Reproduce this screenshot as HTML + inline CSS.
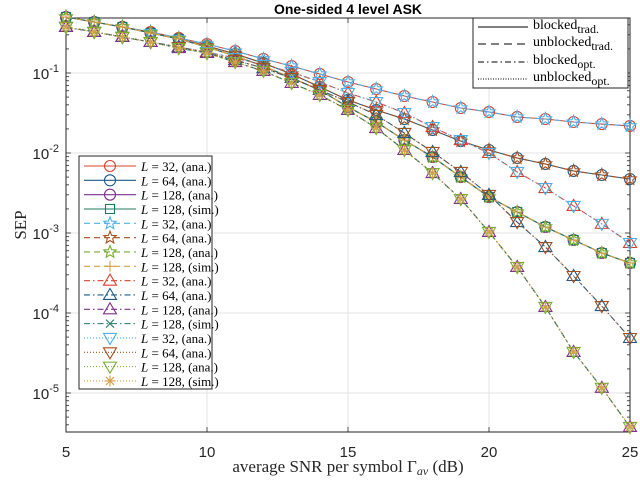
<!DOCTYPE html>
<html><head><meta charset="utf-8"><style>
body{margin:0;background:#fff;}
svg{display:block;}
text{font-family:"Liberation Sans",sans-serif;}
.serif{font-family:"Liberation Serif",serif;}
</style></head><body>
<svg id="chart" width="640" height="480" viewBox="0 0 640 480" xmlns="http://www.w3.org/2000/svg"></svg>
<script>
const snr = [5,6,7,8,9,10,11,12,13,14,15,16,17,18,19,20,21,22,23,24,25];
const sepL32Trad = [0.501,0.434,0.376,0.326,0.274,0.230,0.188,0.150,0.122,0.0972,0.0772,0.0631,0.0516,0.0434,0.0365,0.0326,0.0282,0.0266,0.0244,0.0230,0.0218];
const sepL64Trad = [0.501,0.434,0.376,0.316,0.266,0.218,0.173,0.133,0.0972,0.0668,0.0460,0.0345,0.0266,0.0194,0.0141,0.0109,0.00866,0.00729,0.00596,0.00531,0.00473];
const sepL128Trad = [0.501,0.434,0.376,0.316,0.266,0.211,0.163,0.122,0.0866,0.0613,0.0376,0.0244,0.0145,0.00891,0.00501,0.00282,0.00183,0.00119,0.000818,0.000562,0.000422];
const sepL32Opt = [0.376,0.326,0.282,0.244,0.211,0.183,0.154,0.126,0.103,0.0772,0.0562,0.0434,0.0316,0.0211,0.0145,0.0100,0.00579,0.00365,0.00218,0.00130,0.00075];
const sepL64Opt = [0.376,0.326,0.282,0.244,0.211,0.178,0.145,0.115,0.0866,0.0613,0.0434,0.0299,0.0178,0.0103,0.00579,0.00299,0.00137,0.000668,0.00029,0.000122,0.0000487];
const sepL128Opt = [0.376,0.326,0.282,0.244,0.205,0.178,0.137,0.106,0.075,0.0531,0.0345,0.0205,0.0109,0.00562,0.00266,0.00103,0.000376,0.000119,0.0000326,0.0000116,0.00000376];
const xTicks = [5,10,15,20,25];
const yDecades = [-1,-2,-3,-4,-5];
const legendLabels = ["32, (ana.)","64, (ana.)","128, (ana.)","128, (sim.)","32, (ana.)","64, (ana.)","128, (ana.)","128, (sim.)","32, (ana.)","64, (ana.)","128, (ana.)","128, (sim.)","32, (ana.)","64, (ana.)","128, (ana.)","128, (sim.)"];
const styleLabels = ["blocked","unblocked","blocked","unblocked"];
const styleSubs = ["trad.","trad.","opt.","opt."];

const X0=66,X1=630,Y0=18,Y1=432;
const xs=v=>X0+(v-5)*(X1-X0)/20;
const ys=v=>73+(-1-Math.log10(v))*80;
const svg=document.getElementById('chart');
const NS='http://www.w3.org/2000/svg';
function mk(tag,attrs,parent){const e=document.createElementNS(NS,tag);for(const k in attrs)e.setAttribute(k,attrs[k]);(parent||svg).appendChild(e);return e;}

const grid=mk('g',{});


xTicks.forEach(t=>{if(t>5&&t<25)mk('line',{x1:xs(t),x2:xs(t),y1:Y0,y2:Y1,stroke:'#e3e3e3','stroke-width':1},grid);});
yDecades.forEach(d=>{const y=ys(Math.pow(10,d));mk('line',{x1:X0,x2:X1,y1:y,y2:y,stroke:'#e3e3e3','stroke-width':1},grid);});

const ax=mk('g',{});


for(let d=0;d>=-6;d--){for(let m=1;m<10;m++){const v=m*Math.pow(10,d);const y=ys(v);if(y<Y0||y>Y1)continue;const L=m===1?5:3;
mk('line',{x1:X0,x2:X0+L,y1:y,y2:y,stroke:'#262626','stroke-width':0.8},ax);mk('line',{x1:X1,x2:X1-L,y1:y,y2:y,stroke:'#262626','stroke-width':0.8},ax);}}
xTicks.forEach(t=>{mk('line',{x1:xs(t),x2:xs(t),y1:Y1,y2:Y1-5,stroke:'#262626','stroke-width':0.8},ax);mk('line',{x1:xs(t),x2:xs(t),y1:Y0,y2:Y0+5,stroke:'#262626','stroke-width':0.8},ax);
 const tl=mk('text',{x:xs(t),y:457,'text-anchor':'middle','font-size':15,fill:'#262626'},ax);tl.textContent=t;
 
 });
yDecades.forEach(d=>{const y=ys(Math.pow(10,d));const tl=mk('text',{x:59,y:y+6,'text-anchor':'end','font-size':15,fill:'#262626'},ax);
 tl.innerHTML='10<tspan dy="-7" font-size="11">'+d+'</tspan>';
 
 });

const curves=[sepL32Trad,sepL64Trad,sepL128Trad,sepL32Opt,sepL64Opt,sepL128Opt];
const colors=['#d9412f','#1f5a85','#7e2f8e','#1e7a5e','#4db0e8','#a5501e','#77ac30','#d4a04a','#d9412f','#1f5a85','#7e2f8e','#1e7a5e','#4db0e8','#a5501e','#77ac30','#d4a04a'];
const curveIdx=[0,1,2,2,0,1,2,2,3,4,5,5,3,4,5,5];
const markers=['o','o','o','s','star','star','star','+','tu','tu','tu','x','td','td','td','ast'];
const dashes=['','','','','6,4','6,4','6,4','6,4','6,3,1.5,3','6,3,1.5,3','6,3,1.5,3','6,3,1.5,3','1,2','1,2','1,2','1,2'];
function marker(g,type,x,y,c,s){s=s||1;const a={fill:'none',stroke:c,'stroke-width':1.1};
 if(type==='o')mk('circle',Object.assign({cx:x,cy:y,r:5.5*s},a),g);
 else if(type==='s')mk('rect',Object.assign({x:x-4.5*s,y:y-4.5*s,width:9*s,height:9*s},a),g);
 else if(type==='tu')mk('polygon',Object.assign({points:`${x},${y-6.5*s} ${x-6.5*s},${y+4.5*s} ${x+6.5*s},${y+4.5*s}`},a),g);
 else if(type==='td')mk('polygon',Object.assign({points:`${x},${y+6.5*s} ${x-6.5*s},${y-4.5*s} ${x+6.5*s},${y-4.5*s}`},a),g);
 else if(type==='star'){let p=[];for(let i=0;i<10;i++){const r=i%2?2.8*s:6.5*s;const an=-Math.PI/2+i*Math.PI/5;p.push((x+r*Math.cos(an)).toFixed(1)+','+(y+r*Math.sin(an)).toFixed(1));}mk('polygon',Object.assign({points:p.join(' ')},a),g);}
 else if(type==='+'){mk('path',Object.assign({d:`M${x-5.5*s},${y}H${x+5.5*s}M${x},${y-5.5*s}V${y+5.5*s}`},a),g);}
 else if(type==='x'){mk('path',Object.assign({d:`M${x-4*s},${y-4*s}L${x+4*s},${y+4*s}M${x-4*s},${y+4*s}L${x+4*s},${y-4*s}`},a),g);}
 else if(type==='ast'){mk('path',Object.assign({d:`M${x-5.5*s},${y}H${x+5.5*s}M${x},${y-5.5*s}V${y+5.5*s}M${x-4*s},${y-4*s}L${x+4*s},${y+4*s}M${x-4*s},${y+4*s}L${x+4*s},${y-4*s}`},a),g);}
}
for(let i=0;i<16;i++){const g=mk('g',{});
 
 
 const data=curves[curveIdx[i]];
 const pts=snr.map((s,j)=>xs(s).toFixed(1)+','+ys(data[j]).toFixed(1)).join(' ');
 mk('polyline',{points:pts,fill:'none',stroke:colors[i],'stroke-width':1.1,'stroke-dasharray':dashes[i]},g);
 snr.forEach((s,j)=>marker(g,markers[i],xs(s),ys(data[j]),colors[i]));
}
mk('rect',{x:X0,y:Y0,width:X1-X0,height:Y1-Y0,fill:'none',stroke:'#262626','stroke-width':1},ax);

const lg=mk('g',{});


mk('rect',{x:79,y:156,width:133,height:233,fill:'#fff',stroke:'#262626','stroke-width':1},lg);
for(let i=0;i<16;i++){const y=166+i*14.33;const e=mk('g',{},lg);
 
 
 mk('line',{x1:84,x2:136,y1:y,y2:y,stroke:colors[i],'stroke-width':1.1,'stroke-dasharray':dashes[i]},e);
 marker(e,markers[i],110,y,colors[i]);
 const t=mk('text',{x:141,y:y+5,'font-size':13,class:'serif',fill:'#000'},e);
 t.innerHTML='<tspan font-style="italic">L</tspan> = '+legendLabels[i];}

const lg2=mk('g',{});


mk('rect',{x:473,y:18,width:155,height:70,fill:'#fff',stroke:'#262626','stroke-width':1},lg2);
const sd=['','8,5','6,3,1.5,3','1,1.5'];
[27,44,62,79].forEach((y,i)=>{const e=mk('g',{},lg2);
 
 
 mk('line',{x1:478,x2:528,y1:y,y2:y,stroke:'#000','stroke-width':1,'stroke-dasharray':sd[i]},e);
 const t=mk('text',{x:533,y:y+2,'font-size':14,class:'serif',fill:'#000'},e);
 t.innerHTML=styleLabels[i]+'<tspan dy="4" font-size="12">'+styleSubs[i]+'</tspan>';});

const ti=mk('text',{x:348,y:14,'text-anchor':'middle','font-size':14,'font-weight':'bold',fill:'#000'});ti.textContent='One-sided 4 level ASK';


const xl=mk('text',{x:348,y:472,'text-anchor':'middle','font-size':17,class:'serif',fill:'#262626'});
xl.innerHTML='average SNR per symbol Γ<tspan font-style="italic" font-size="12" dy="3">av</tspan><tspan dy="-3"> (dB)</tspan>';


const yl=mk('text',{x:26,y:225,'text-anchor':'middle','font-size':17,class:'serif',fill:'#262626',transform:'rotate(-90 26 225)'});yl.textContent='SEP';


</script>
</body></html>
